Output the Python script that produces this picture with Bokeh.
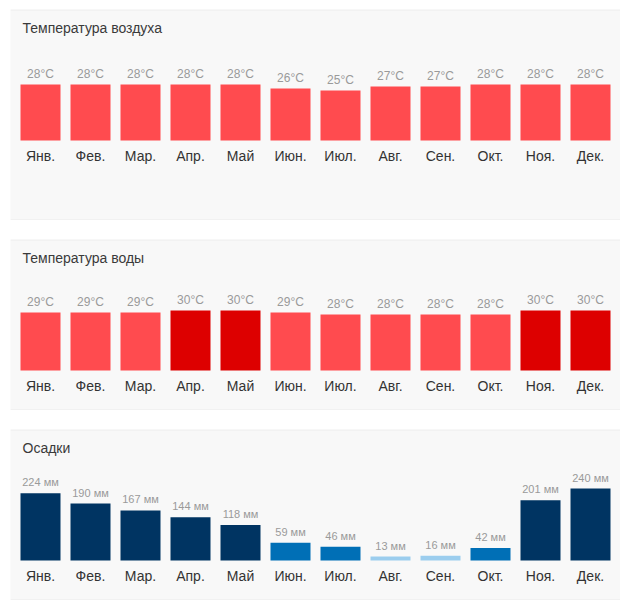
from bokeh.plotting import figure
from bokeh.layouts import column
from bokeh.models import FactorRange, Range1d, Span, ColumnDataSource
from bokeh.core.properties import value
from bokeh.embed import file_html
from bokeh.resources import INLINE

months = ["Янв.", "Фев.", "Мар.", "Апр.", "Май", "Июн.",
          "Июл.", "Авг.", "Сен.", "Окт.", "Ноя.", "Дек."]
air_temp = [28, 28, 28, 28, 28, 26, 25, 27, 27, 28, 28, 28]
water_temp = [29, 29, 29, 30, 30, 29, 28, 28, 28, 28, 30, 30]
precip = [224, 190, 167, 144, 118, 59, 46, 13, 16, 42, 201, 240]

titles = ["Температура воздуха", "Температура воды", "Осадки"]

FONT = "Liberation Sans"
BG = "#f8f8f8"
LINE = "#ebebeb"
W = 610


def temp_color(t):
    return "#dd0000" if t >= 30 else "#ff4b4f"


def precip_color(v):
    if v >= 100:
        return "#003462"
    if v >= 20:
        return "#006fb6"
    return "#9bcdee"


def panel(title, vals, labels, colors, height, px_per_unit, label_size):
    base_from_top = 131
    end = base_from_top / px_per_unit
    start = -(height - base_from_top) / px_per_unit
    p = figure(width=W, height=height, output_backend="svg", toolbar_location=None,
               tools="", x_range=FactorRange(factors=months, range_padding=0.1,
                                             range_padding_units="absolute"),
               y_range=Range1d(start, end), x_axis_location=None, y_axis_location=None,
               min_border=0, min_border_left=0, min_border_right=0,
               min_border_top=0, min_border_bottom=0)
    p.background_fill_color = BG
    p.border_fill_color = BG
    p.outline_line_color = None
    p.grid.visible = False

    src = ColumnDataSource(dict(x=months, top=vals, lab=labels, c=colors,
                                zero=[0] * len(months)))
    p.vbar(x="x", top="top", bottom=0, width=0.8, fill_color="c", line_color=None, source=src)
    p.text(x="x", y="top", text="lab", source=src, text_align="center",
           text_baseline="alphabetic", y_offset=-11, text_font=value(FONT),
           text_font_size=label_size, text_color="#9a9a9a")
    p.text(x="x", y="zero", text="x", source=src, text_align="center",
           text_baseline="alphabetic", y_offset=15, text_font=value(FONT),
           text_font_size="14px", text_color="#333333")
    p.text(x=[months[0]], y=[end - 18 / px_per_unit], text=[title], text_align="left",
           text_baseline="alphabetic", x_offset=-18, text_font=value(FONT),
           text_font_size="14px", text_color="#3a3a3a")

    p.add_layout(Span(location=end - 0.5 / px_per_unit, dimension="width",
                      line_color=LINE, line_width=1))
    p.add_layout(Span(location=start + 0.5 / px_per_unit, dimension="width",
                      line_color=LINE, line_width=1))
    return p


p1 = panel(titles[0], air_temp, [f"{t}°C" for t in air_temp],
           [temp_color(t) for t in air_temp], 211, 2.0, "12px")
p2 = panel(titles[1], water_temp, [f"{t}°C" for t in water_temp],
           [temp_color(t) for t in water_temp], 171, 2.0, "12px")
p3 = panel(titles[2], precip, [f"{v} мм" for v in precip],
           [precip_color(v) for v in precip], 171, 0.3, "11px")

layout = column(p1, p2, p3, spacing=19, margin=(9, 0, 0, 10))

open("out.html", "w").write(file_html(layout, INLINE))
